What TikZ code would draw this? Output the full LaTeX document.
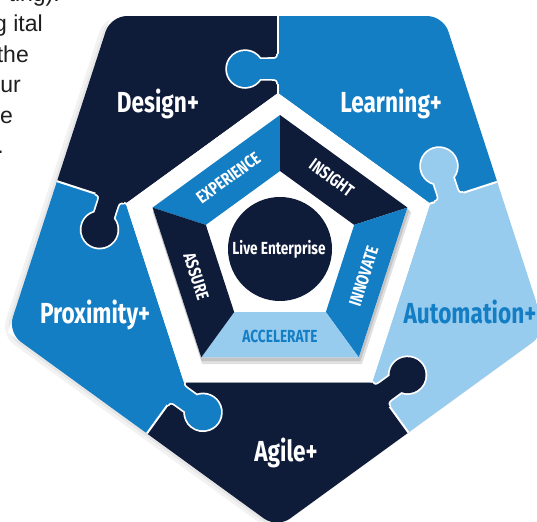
\documentclass[tikz,border=0pt]{standalone}
\usepackage{fontspec}
\setmainfont{Fira Sans}[FakeStretch=0.78]
\newfontfamily\notefont{Liberation Sans}
\usetikzlibrary{calc}

\definecolor{navy}{RGB}{14,27,57}
\definecolor{midblue}{RGB}{20,126,197}
\definecolor{paleblue}{RGB}{152,204,238}
\definecolor{notegrey}{RGB}{30,30,30}

\tikzset{
	rim/.style={white, line width=2},
	knobrim/.style={white, line width=3.5},
	piecelabel/.style={font=\bfseries\fontsize{29}{29}\selectfont, text=white, anchor=base, inner sep=0},
	ringlabel/.style={font=\bfseries\fontsize{17.5}{17.5}\selectfont, text=white, inner sep=0},
	notetext/.style={font=\notefont\fontsize{23}{23}\selectfont, text=notegrey, anchor=base east, inner sep=0}
}

\newcommand{\piece}[3] % from angle, to angle, colour
{
	\fill[#3] ($(hub)+(#1:160)$) -- ($(hub)+(#1:420)$) -- ($(hub)+(#2:420)$) -- ($(hub)+(#2:160)$) -- cycle;
}
\newcommand{\seam}[1] % boundary angle
{
	\draw[rim] ($(hub)+(#1:159)$) -- ($(hub)+(#1:320)$);
}
\newcommand{\knob}[3] % boundary angle, distance from hub, colour of the piece it grows from
{
	\begin{scope}[shift={(hub)}, rotate=#1]
		% white edge
		\draw[knobrim] ({#2-15},0) .. controls ({#2-11},0) and ({#2-10},2) .. ({#2-10},6) -- ({#2-10},18) arc[start angle=236.3, end angle=-56.3, radius=18] -- ({#2+10},6) .. controls ({#2+10},2) and ({#2+11},0) .. ({#2+15},0);
		% body
		\fill[#3] ({#2-15},-3) -- ({#2-15},0) .. controls ({#2-11},0) and ({#2-10},2) .. ({#2-10},6) -- ({#2-10},18) arc[start angle=236.3, end angle=-56.3, radius=18] -- ({#2+10},6) .. controls ({#2+10},2) and ({#2+11},0) .. ({#2+15},0) -- ({#2+15},-3) -- cycle;
	\end{scope}
}
\newcommand{\facet}[3] % from angle, to angle, colour
{
	\fill[#3] ($(core)+(#1:134)$) -- ($(core)+(#2:134)$) -- ($(core)+(#2:78)$) -- ($(core)+(#1:78)$) -- cycle;
}

\begin{document}
\begin{tikzpicture}[x=1pt, y=1pt]
	\useasboundingbox (0,0) rectangle (537,521);
	\coordinate (out) at (277,276);
	\coordinate (hub) at (278,268);
	\coordinate (core) at (280,272);

	% cut-off text of the page
	\node[notetext] (noteA) at (60,519) {ting).};
	\node[notetext] (noteB) at (43,489) {g ital};
	\node[notetext] (noteC) at (29,458.5) {the};
	\node[notetext] (noteD) at (21,428) {ur};
	\node[notetext] (noteE) at (13,397.5) {e};
	\node[notetext] (noteF) at (4,367) {.};

	% soft shadow of the outer pentagon
	\fill[black, opacity=0.05, rounded corners=16] ($(out)+(-5,-2)+(54:285)$) -- ($(out)+(-5,-2)+(126:285)$) -- ($(out)+(-5,-2)+(198:285)$) -- ($(out)+(-5,-2)+(270:285)$) -- ($(out)+(-5,-2)+(342:285)$) -- cycle;
	\fill[black, opacity=0.05, rounded corners=16] ($(out)+(-2,-1)+(54:284)$) -- ($(out)+(-2,-1)+(126:284)$) -- ($(out)+(-2,-1)+(198:284)$) -- ($(out)+(-2,-1)+(270:284)$) -- ($(out)+(-2,-1)+(342:284)$) -- cycle;

	% puzzle pieces
	\begin{scope}
		\fill[white] ($(out)+(54:283)$) -- ($(out)+(126:283)$) -- ($(out)+(198:283)$) -- ($(out)+(270:283)$) -- ($(out)+(342:283)$) -- cycle;
		\clip[rounded corners=16] ($(out)+(54:283)$) -- ($(out)+(126:283)$) -- ($(out)+(198:283)$) -- ($(out)+(270:283)$) -- ($(out)+(342:283)$) -- cycle;
		\piece{90}{162}{navy}       % Design+
		\piece{18}{90}{midblue}     % Learning+
		\piece{-54}{18}{paleblue}   % Automation+
		\piece{-126}{-54}{navy}     % Agile+
		\piece{162}{234}{midblue}   % Proximity+
		\seam{90}
		\seam{162}
		\seam{234}
		\seam{306}
		\seam{18}
		\knob{90}{184}{midblue}
		\knob{162}{177}{navy}
		\knob{234}{173}{midblue}
		\knob{306}{175}{navy}
		\knob{18}{180}{paleblue}
	\end{scope}

	% white gap round the ring
	\fill[white] ($(hub)+(90:160)$) -- ($(hub)+(162:160)$) -- ($(hub)+(234:160)$) -- ($(hub)+(306:160)$) -- ($(hub)+(18:160)$) -- cycle;

	% shadow under the ring
	\fill[black, opacity=0.12] ($(core)+(2,-5)+(90:136)$) -- ($(core)+(2,-5)+(162:136)$) -- ($(core)+(2,-5)+(234:136)$) -- ($(core)+(2,-5)+(306:136)$) -- ($(core)+(2,-5)+(18:136)$) -- cycle;
	\fill[black, opacity=0.12] ($(core)+(1,-3)+(90:135)$) -- ($(core)+(1,-3)+(162:135)$) -- ($(core)+(1,-3)+(234:135)$) -- ($(core)+(1,-3)+(306:135)$) -- ($(core)+(1,-3)+(18:135)$) -- cycle;

	% ring
	\fill[white] ($(core)+(90:134)$) -- ($(core)+(162:134)$) -- ($(core)+(234:134)$) -- ($(core)+(306:134)$) -- ($(core)+(18:134)$) -- cycle;
	\facet{90}{162}{midblue}    % experience
	\facet{18}{90}{navy}        % insight
	\facet{-54}{18}{midblue}    % innovate
	\facet{234}{306}{paleblue}  % accelerate
	\facet{162}{234}{navy}      % assure
	\fill[navy] (core) circle (52);

	% ring words
	\node[ringlabel, rotate=36] (experience) at ($(core)+(126:88)$) {EXPERIENCE};
	\node[ringlabel, rotate=-36] (insight) at ($(core)+(54:88)$) {INSIGHT};
	\node[ringlabel, rotate=72] (innovate) at ($(core)+(342:88)$) {INNOVATE};
	\node[ringlabel, text=midblue] (accelerate) at ($(core)+(270:87)$) {ACCELERATE};
	\node[ringlabel, rotate=-72] (assure) at ($(core)+(198:88)$) {ASSURE};
	\node[font=\bfseries\fontsize{17.5}{17.5}\selectfont, text=white, anchor=base, inner sep=0] (live) at (279,266) {Live Enterprise};

	% piece words
	\node[piecelabel] (design) at (158,408) {Design+};
	\node[piecelabel] (learning) at (391,408) {Learning+};
	\node[piecelabel] (proximity) at (95,197) {Proximity+};
	\node[piecelabel, text=midblue] (automation) at (470,197) {Automation+};
	\node[piecelabel] (agile) at (286,59) {Agile+};
\end{tikzpicture}
\end{document}
